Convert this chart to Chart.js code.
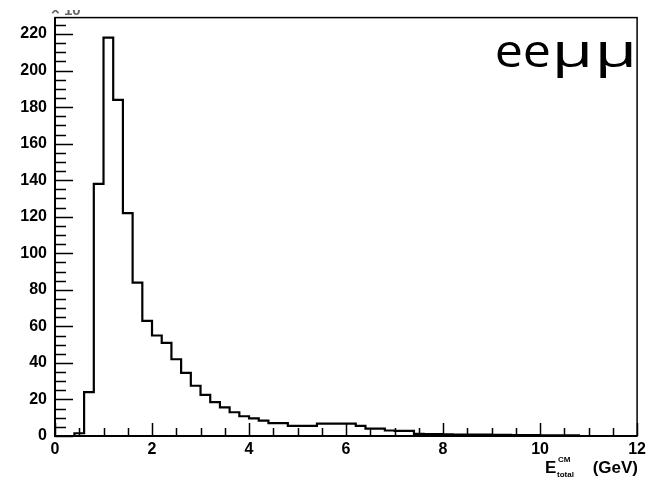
<!DOCTYPE html>
<html>
<head>
<meta charset="utf-8">
<script src="https://cdn.jsdelivr.net/npm/chart.js@4"></script>
<style>
  body { margin: 0; background: #fff; }
  canvas { display: block; }
</style>
</head>
<body>
<canvas id="histo" width="650" height="478"></canvas>
<script>
// histogram: 60 bins of 0.2 GeV from 0 to 12
const binStart = 0;
const binWidth = 0.2;
const counts = [
  0, 0, 1.5, 24, 138, 218, 184, 122, 84, 63,
  55, 51, 42, 34.5, 27.5, 22.5, 18.5, 15.7, 13, 10.8,
  9.7, 8.4, 7, 7, 5.5, 5.5, 5.5, 6.8, 6.8, 6.8,
  6.8, 5.5, 4, 4, 3, 2.8, 2.8, 1.2, 1.1, 1,
  0.9, 0.8, 0.8, 0.7, 0.7, 0.6, 0.6, 0.5, 0.5, 0.5,
  0.4, 0.4, 0.4, 0.3, 0, 0, 0, 0, 0, 0
];
const xTicks = [0, 2, 4, 6, 8, 10, 12];
const yTicks = [0, 20, 40, 60, 80, 100, 120, 140, 160, 180, 200, 220];

// step points at left bin edges, closing point at the last edge
const points = counts.map((c, i) => ({ x: binStart + i * binWidth, y: c }));
points.push({ x: binStart + counts.length * binWidth, y: 0 });

const labelFont = { family: 'Liberation Sans', size: 16, weight: 'bold' };

// draw a glyph stretched so its ink spans [x0, x1]
function stretchedGlyph(ctx, ch, x0, x1, base) {
  const m = ctx.measureText(ch);
  const inkL = -m.actualBoundingBoxLeft;
  const inkW = m.actualBoundingBoxRight + m.actualBoundingBoxLeft;
  const k = (x1 - x0) / inkW;
  ctx.save();
  ctx.translate(x0 - inkL * k, base);
  ctx.scale(k, 1);
  ctx.fillText(ch, 0, 0);
  ctx.restore();
}

// ROOT style frame, inward tick marks and texts
const rootFrame = {
  id: 'rootFrame',
  afterDraw(chart) {
    const ctx = chart.ctx;
    const a = chart.chartArea;
    const xs = chart.scales.x, ys = chart.scales.y;
    ctx.save();
    ctx.strokeStyle = '#000';

    // frame
    ctx.lineWidth = 1.5;
    ctx.strokeRect(a.left, a.top, a.right - a.left, a.bottom - a.top);
    ctx.lineWidth = 2;
    ctx.beginPath();
    ctx.moveTo(a.left, a.top); ctx.lineTo(a.left, a.bottom); ctx.lineTo(a.right, a.bottom);
    ctx.stroke();

    // x ticks, every 0.5, major every 2
    ctx.lineWidth = 1.5;
    ctx.beginPath();
    for (let v = xs.min; v <= xs.max + 1e-9; v += 0.5) {
      const px = Math.round(xs.getPixelForValue(v)) + 0.5;
      const len = (Math.abs(v % 2) < 1e-9) ? 13 : 8;
      ctx.moveTo(px, a.bottom); ctx.lineTo(px, a.bottom - len);
    }
    // y ticks, every 5, major every 20
    for (let v = 0; v <= ys.max; v += 5) {
      const py = Math.round(ys.getPixelForValue(v)) + 0.5;
      const len = (v % 20 === 0) ? 18 : 11;
      ctx.moveTo(a.left, py); ctx.lineTo(a.left + len, py);
    }
    ctx.stroke();

    // exponent text, cut at the top like the original
    ctx.save();
    ctx.beginPath();
    ctx.rect(40, 10, 80, 6);
    ctx.clip();
    ctx.fillStyle = '#666';
    ctx.font = 'bold 15px "Liberation Sans"';
    ctx.textBaseline = 'alphabetic';
    ctx.fillText('\u00d7 10', 51, 15);
    ctx.restore();

    // x axis title: E_total^CM (GeV)
    ctx.fillStyle = '#000';
    ctx.textBaseline = 'alphabetic';
    ctx.font = 'bold 17px "Liberation Sans"';
    ctx.fillText('E', 545, 473);
    ctx.font = 'bold 8px "Liberation Sans"';
    ctx.fillText('CM', 558, 462);
    ctx.fillText('total', 557, 477);
    ctx.font = 'bold 17px "Liberation Sans"';
    ctx.textAlign = 'right';
    ctx.fillText('(GeV)', 638, 473);

    // title: "ee" then two wide mu glyphs
    ctx.textAlign = 'left';
    ctx.font = '46px "Open Sans"';
    stretchedGlyph(ctx, 'e', 497, 521, 67);
    stretchedGlyph(ctx, 'e', 525, 549, 67);
    stretchedGlyph(ctx, '\u03bc', 556, 588, 67);
    stretchedGlyph(ctx, '\u03bc', 599, 632, 67);
    ctx.restore();
  }
};

new Chart(document.getElementById('histo'), {
  type: 'line',
  data: {
    datasets: [{
      data: points,
      stepped: 'before',
      borderColor: '#000',
      borderWidth: 2.2,
      pointRadius: 0,
      fill: false
    }]
  },
  options: {
    responsive: false,
    animation: false,
    devicePixelRatio: 1,
    layout: { padding: { left: 0, top: 17, right: 9, bottom: 0 } },
    plugins: { legend: { display: false }, tooltip: { enabled: false } },
    scales: {
      x: {
        type: 'linear',
        min: 0,
        max: 12,
        afterFit(s) { s.height = 42; },
        afterBuildTicks(s) { s.ticks = xTicks.map(v => ({ value: v })); },
        grid: { display: false, drawTicks: false },
        border: { display: false },
        ticks: { color: '#000', font: labelFont, padding: 4, maxRotation: 0, autoSkip: false }
      },
      y: {
        type: 'linear',
        min: 0,
        max: 229,
        afterFit(s) { s.width = 55; },
        afterBuildTicks(s) { s.ticks = yTicks.map(v => ({ value: v })); },
        grid: { display: false, drawTicks: false },
        border: { display: false },
        ticks: { color: '#000', font: labelFont, padding: 8, autoSkip: false }
      }
    }
  },
  plugins: [rootFrame]
});
</script>
</body>
</html>
